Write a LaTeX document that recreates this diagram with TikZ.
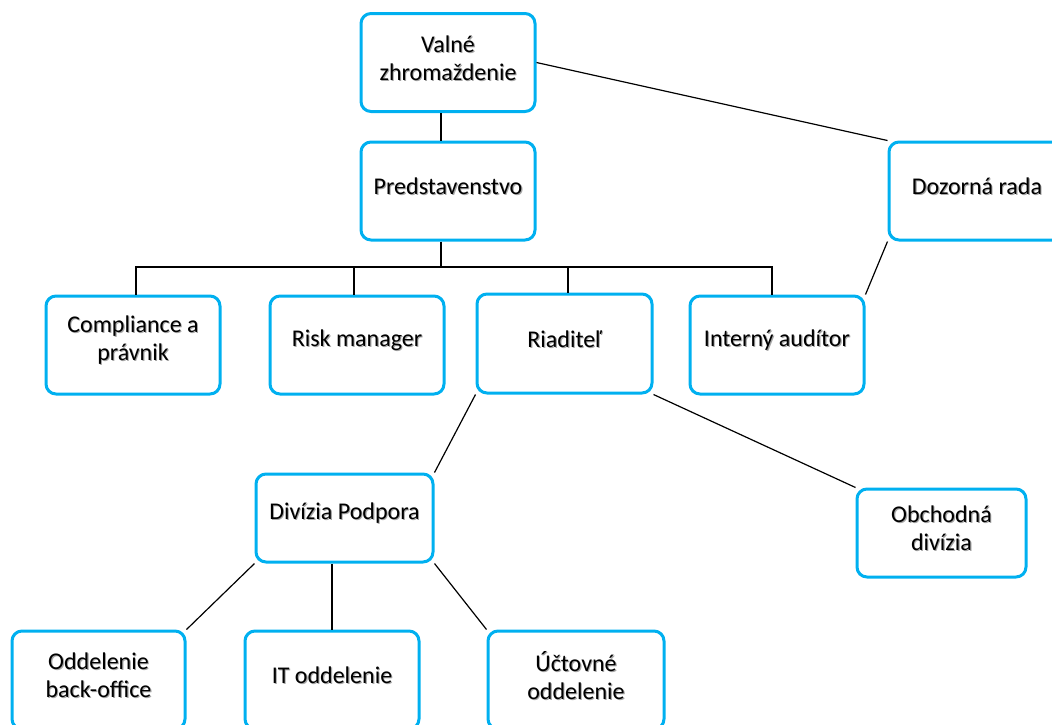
\documentclass[tikz,border=0pt]{standalone}
\usepackage{fontspec}
\setmainfont{Carlito}
\definecolor{boxblue}{RGB}{0,176,240}
% text with a soft shadow, set a little above the middle
\newcommand\shd[1]{\raisebox{4pt}[\height][\depth]{\rlap{\kern1.1pt\raisebox{-1.1pt}{\color{black!35}#1}}#1}}
\begin{document}
\begin{tikzpicture}[x=1pt,y=-1pt,
  unit/.style={draw=boxblue,line width=3pt,rounded corners=10pt,minimum width=174pt,minimum height=98pt,align=center,font=\fontsize{24}{28}\selectfont,inner sep=2pt},
  link/.style={line width=1.2pt}]
\clip (0,0) rectangle (1052,724);
\node[unit] (valne) at (448,62.5) {\shd{Valné}\\\shd{zhromaždenie}};
\node[unit] (pred) at (448,191) {\shd{Predstavenstvo}};
\node[unit,minimum width=176pt] (dozor) at (977,191) {\shd{Dozorná rada}};
\node[unit] (compl) at (133,345) {\shd{Compliance a}\\\shd{právnik}};
\node[unit] (risk) at (357,345) {\shd{Risk manager}};
\node[unit,minimum width=175pt,minimum height=99pt] (riad) at (564.5,343.5) {\shd{Riaditeľ}};
\node[unit] (intern) at (777,345) {\shd{Interný audítor}};
\node[unit,minimum width=177pt,minimum height=88pt] (divizia) at (344.5,518) {\shd{Divízia Podpora}};
\node[unit,minimum width=169pt,minimum height=88pt] (obch) at (941.5,533) {\shd{Obchodná}\\\shd{divízia}};
\node[unit,minimum width=173pt] (oddel) at (98.5,680) {\shd{Oddelenie}\\\shd{back-office}};
\node[unit] (it) at (332,680) {\shd{IT oddelenie}};
\node[unit,minimum width=176pt] (uct) at (576,680) {\shd{Účtovné}\\\shd{oddelenie}};

% top
\draw[link] ([xshift=-7pt]valne.south) -- ([xshift=-7pt]pred.north);
\draw[link] (valne.east) -- (dozor.north west);
\draw[link] (dozor.south west) -- (intern.north east);

% bus under Predstavenstvo
\coordinate (bus) at (441,267);
\draw[link] ([xshift=-7pt]pred.south) -- (bus);
\draw[link] ([xshift=3pt]compl.north) |- ([xshift=-5pt]intern.north |- bus) -- ([xshift=-5pt]intern.north);
\draw[link] ([xshift=-3pt]risk.north) -- ([xshift=-3pt]risk.north |- bus);
\draw[link] ([xshift=3.5pt]riad.north) -- ([xshift=3.5pt]riad.north |- bus);

% Riaditel
\draw[link] (riad.south west) -- (divizia.north east);
\draw[link] (riad.south east) -- (obch.north west);

% Divizia Podpora
\draw[link] (divizia.south west) -- (oddel.north east);
\draw[link] (it.north) -- (it.north |- divizia.south);
\draw[link] (divizia.south east) -- (uct.north west);
\end{tikzpicture}
\end{document}
